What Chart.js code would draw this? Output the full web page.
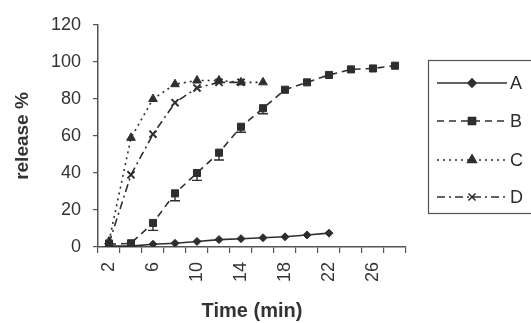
<!DOCTYPE html>
<html><head><meta charset="utf-8">
<script src="https://cdn.jsdelivr.net/npm/chart.js@4/dist/chart.umd.min.js"></script>
<style>html,body{margin:0;padding:0;background:#fff}#w{width:531px;height:323px}</style>
</head><body><div id="w"><canvas id="c" width="531" height="323"></canvas></div>
<script>
const timeLabels = ['2','4','6','8','10','12','14','16','18','20','22','24','26','28'];
const seriesA = [0.5, 0.5, 1.5, 2, 3, 4, 4.5, 5, 5.5, 6.5, 7.5, null, null, null];
const seriesB = [1.5, 2, 13, 29, 40, 51, 65, 75, 85, 89, 93, 96, 96.5, 98];
const errB    = [0, 0, 4, 4, 4, 4, 3, 3, 0, 0, 0, 0, 0, 0];
const seriesC = [3, 59, 80, 88, 90, 90, 89, 89, null, null, null, null, null, null];
const seriesD = [2, 39, 61, 78, 86, 89, 89, null, null, null, null, null, null, null];
const yTicks = [0, 20, 40, 60, 80, 100, 120];

const INK = '#2e2e2e';
const FONT = 'Arial, "Liberation Sans", sans-serif';

function ds(label, data, dash, pstyle, r) {
  return { label, data, borderColor: INK, backgroundColor: INK, borderWidth: 1.6,
    borderDash: dash, pointStyle: pstyle, pointRadius: r, pointBorderWidth: pstyle === 'crossRot' ? 2 : 1,
    pointBackgroundColor: INK, pointBorderColor: INK, tension: 0, spanGaps: false };
}

const errPlugin = {
  id: 'errbars',
  afterDatasetsDraw(chart) {
    const ctx = chart.ctx, x = chart.scales.x, y = chart.scales.y;
    ctx.save(); ctx.strokeStyle = INK; ctx.lineWidth = 1.4;
    errB.forEach((e, i) => {
      if (!e) return;
      const px = x.getPixelForValue(i), p0 = y.getPixelForValue(seriesB[i]), p1 = y.getPixelForValue(seriesB[i] - e);
      ctx.beginPath(); ctx.moveTo(px, p0); ctx.lineTo(px, p1);
      ctx.moveTo(px - 5, p1); ctx.lineTo(px + 5, p1); ctx.stroke();
    });
    ctx.restore();
  }
};

const legendPlugin = {
  id: 'boxlegend',
  afterDraw(chart) {
    const ctx = chart.ctx;
    ctx.save();
    ctx.strokeStyle = '#555'; ctx.lineWidth = 1.2;
    ctx.strokeRect(428.5, 60.5, 110, 153);
    const rows = [83, 121, 160, 197];
    chart.data.datasets.forEach((d, i) => {
      const yy = rows[i];
      ctx.strokeStyle = INK; ctx.lineWidth = 1.6; ctx.setLineDash(d.borderDash || []);
      ctx.beginPath(); ctx.moveTo(437, yy); ctx.lineTo(507, yy); ctx.stroke();
      ctx.setLineDash([]);
      Chart.helpers.drawPoint(ctx, { pointStyle: d.pointStyle, radius: d.pointRadius, rotation: 0, borderWidth: d.pointBorderWidth }, 472, yy);
      ctx.fillStyle = INK;
      if (d.pointStyle !== 'crossRot') { ctx.fill(); }
      ctx.font = '18px ' + FONT; ctx.textBaseline = 'middle'; ctx.textAlign = 'left';
      ctx.fillText(d.label, 510, yy + 1);
    });
    ctx.restore();
  }
};

new Chart(document.getElementById('c'), {
  type: 'line',
  data: { labels: timeLabels, datasets: [
    ds('A', seriesA, [], 'rectRot', 4),
    ds('B', seriesB, [7, 5], 'rect', 5),
    ds('C', seriesC, [2, 4], 'triangle', 5),
    ds('D', seriesD, [8, 4, 2, 4], 'crossRot', 5)
  ]},
  options: {
    responsive: false, animation: false, devicePixelRatio: 1,
    layout: { padding: { top: 25, right: 125, left: 0, bottom: 0 } },
    plugins: { legend: { display: false }, tooltip: { enabled: false } },
    scales: {
      x: {
        type: 'category', offset: true,
        grid: { display: true, offset: true, drawOnChartArea: false, tickLength: 6, color: '#555', lineWidth: 1.2 },
        border: { display: true, color: '#555', width: 1.5 },
        ticks: { autoSkip: false, minRotation: 90, maxRotation: 90, padding: 9, color: '#333',
          font: { size: 18, family: FONT },
          callback: (v, i) => (i % 2 === 0 ? timeLabels[i] : '') },
        title: { display: true, text: 'Time (min)', color: '#333', font: { size: 20, weight: 'bold', family: FONT }, padding: { top: 0, bottom: 0 } },
        afterFit: s => { s.height = 76; }
      },
      y: {
        min: 0, max: 120,
        afterBuildTicks: s => { s.ticks = yTicks.map(v => ({ value: v })); },
        grid: { display: true, drawOnChartArea: false, tickLength: 5, color: '#555', lineWidth: 1.2 },
        border: { display: true, color: '#555', width: 1.5 },
        ticks: { padding: 12, color: '#333', font: { size: 18, family: FONT } },
        title: { display: true, text: 'release %', color: '#333', font: { size: 19, weight: 'bold', family: FONT }, padding: { top: 11, bottom: 0 } },
        afterFit: s => { s.width = 98; }
      }
    }
  },
  plugins: [errPlugin, legendPlugin]
});
</script></body></html>
